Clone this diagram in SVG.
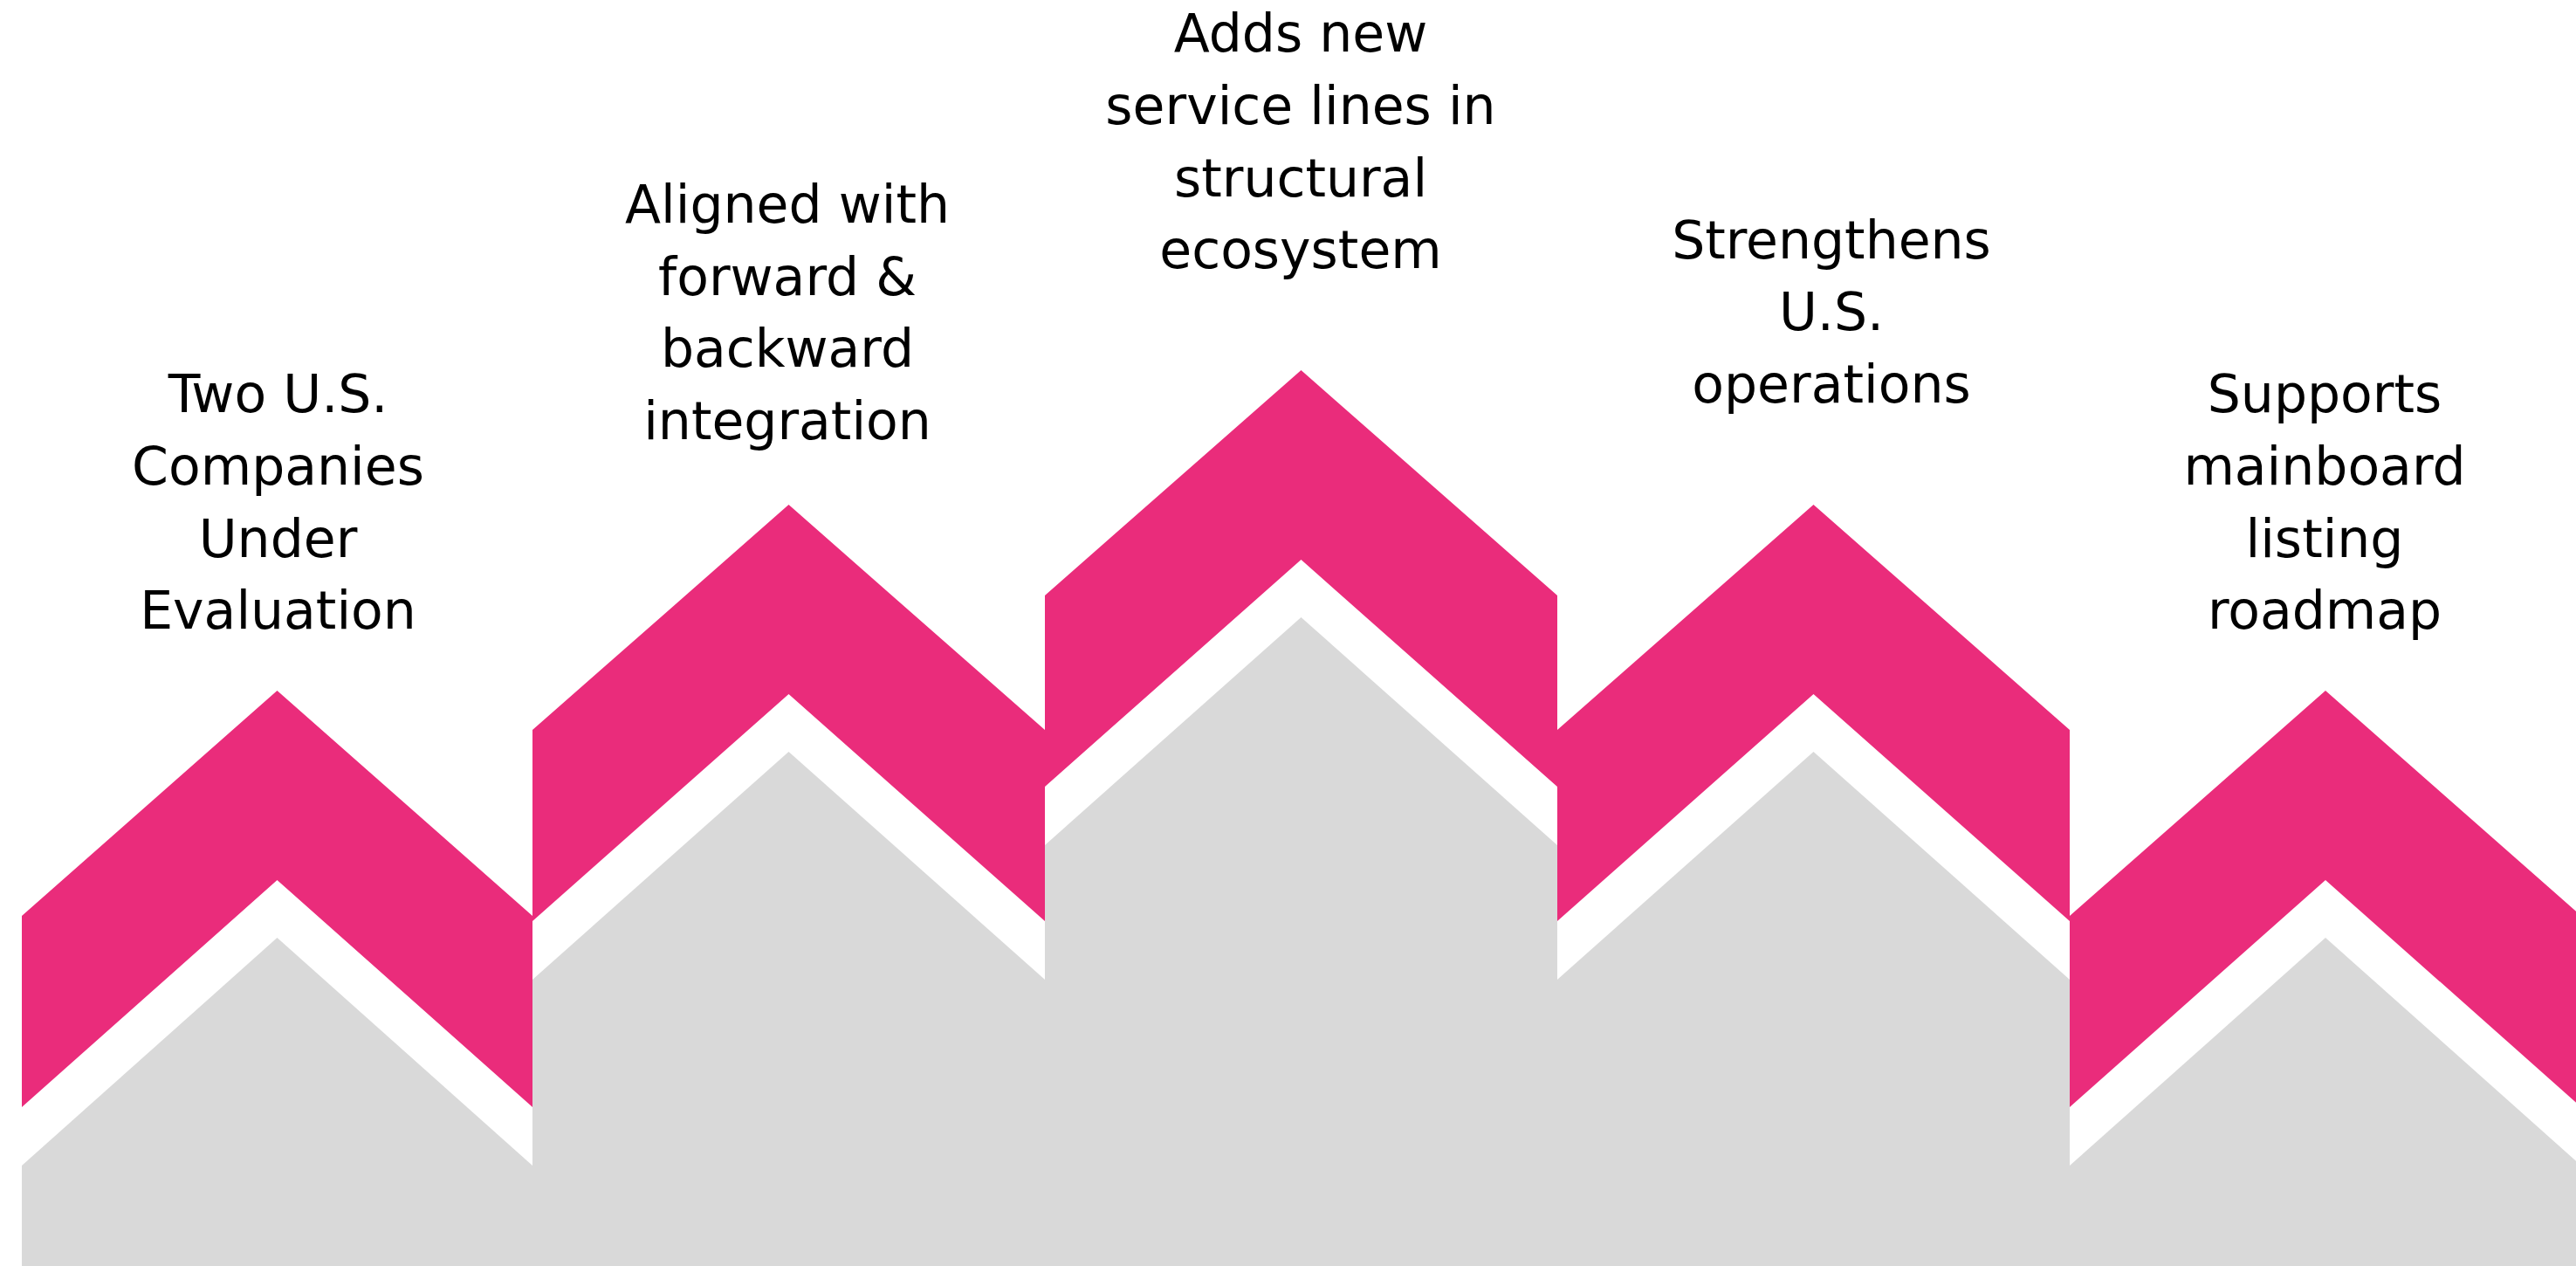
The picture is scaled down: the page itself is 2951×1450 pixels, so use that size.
<svg xmlns="http://www.w3.org/2000/svg" width="2951" height="1450" viewBox="0 0 2951 1450">
  <style>
    .pink { fill: #EA2C7B; }
    .grey { fill: #D9D9D9; }
    .lbl { font-family: "DejaVu Sans", "Noto Sans", sans-serif; font-size: 60px; fill: #000000; text-anchor: middle; }
  </style>
  <rect x="0" y="0" width="2951" height="1450" fill="#FFFFFF"/>
  <g id="step1">
    <polygon class="pink" points="25,1049 317.5,791 610,1049 610,1268 317.5,1008 25,1268"/>
    <polygon class="grey" points="25,1335 317.5,1074 610,1335 610,1450 25,1450"/>
    <text class="lbl" x="318.5"><tspan x="318.5" y="472">Two U.S.</tspan><tspan x="318.5" y="555">Companies</tspan><tspan x="318.5" y="638">Under</tspan><tspan x="318.5" y="720">Evaluation</tspan></text>
  </g>
  <g id="step2">
    <polygon class="pink" points="610,836 903.5,578 1197,836 1197,1055 903.5,795 610,1055"/>
    <polygon class="grey" points="610,1122 903.5,861 1197,1122 1197,1450 610,1450"/>
    <text class="lbl" x="902"><tspan x="902" y="255">Aligned with</tspan><tspan x="902" y="338">forward &amp;</tspan><tspan x="902" y="420">backward</tspan><tspan x="902" y="503">integration</tspan></text>
  </g>
  <g id="step3">
    <polygon class="pink" points="1197,682 1490.5,424 1784,682 1784,901 1490.5,641 1197,901"/>
    <polygon class="grey" points="1197,968 1490.5,707 1784,968 1784,1450 1197,1450"/>
    <text class="lbl" x="1490"><tspan x="1490" y="59">Adds new</tspan><tspan x="1490" y="142">service lines in</tspan><tspan x="1490" y="225">structural</tspan><tspan x="1490" y="307">ecosystem</tspan></text>
  </g>
  <g id="step4">
    <polygon class="pink" points="1784,836 2077.5,578 2371,836 2371,1055 2077.5,795 1784,1055"/>
    <polygon class="grey" points="1784,1122 2077.5,861 2371,1122 2371,1450 1784,1450"/>
    <text class="lbl" x="2098"><tspan x="2098" y="296">Strengthens</tspan><tspan x="2098" y="378">U.S.</tspan><tspan x="2098" y="461">operations</tspan></text>
  </g>
  <g id="step5">
    <polygon class="pink" points="2371,1049 2664,791 2957,1049 2957,1268 2664,1008 2371,1268"/>
    <polygon class="grey" points="2371,1335 2664,1074 2957,1335 2957,1450 2371,1450"/>
    <text class="lbl" x="2663"><tspan x="2663" y="472">Supports</tspan><tspan x="2663" y="555">mainboard</tspan><tspan x="2663" y="638">listing</tspan><tspan x="2663" y="720">roadmap</tspan></text>
  </g>
  <g id="connectors"></g>
</svg>
